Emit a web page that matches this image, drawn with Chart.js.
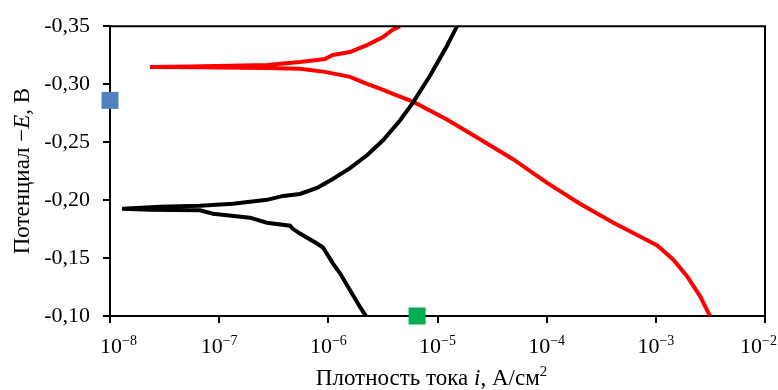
<!DOCTYPE html>
<html>
<head>
<meta charset="utf-8">
<script src="https://cdn.jsdelivr.net/npm/chart.js@4/dist/chart.umd.min.js"></script>
<style>
  html, body { margin: 0; padding: 0; background: #fff; }
  #wrap { width: 778px; height: 390px; }
</style>
</head>
<body>
<div id="wrap"><canvas id="polarChart" width="778" height="390"></canvas></div>
<script>
// red curve: current density (A/cm2) and potential (V), traced from the top end
const redCurrent = [4.53e-6, 3.83e-6, 3.17e-6, 2.26e-6, 1.58e-6, 1.10e-6, 9.3e-7, 5.5e-7, 2.74e-7, 1.26e-7, 5.4e-8, 2.32e-8,
  6.67e-8, 2.63e-7, 5.5e-7, 9.3e-7, 1.58e-6, 2.26e-6, 2.97e-6, 4.53e-6, 5.96e-6, 1.22e-5, 2.45e-5, 4.92e-5,
  1.01e-4, 2.02e-4, 4.05e-4, 7.16e-4, 1.03e-3, 1.44e-3, 1.93e-3, 2.54e-3, 3.13e-3];
const redPotential = [-0.350, -0.3466, -0.3406, -0.3337, -0.3277, -0.3252, -0.3217, -0.3192, -0.3166, -0.3158, -0.3153, -0.3149,
  -0.3145, -0.3140, -0.3132, -0.3106, -0.3063, -0.3003, -0.2961, -0.2892, -0.2849, -0.2695, -0.2524, -0.2353,
  -0.2148, -0.1968, -0.1806, -0.1685, -0.1608, -0.1488, -0.1343, -0.1172, -0.100];

// black curve
const blackCurrent = [1.51e-5, 1.22e-5, 8.53e-6, 5.96e-6, 4.53e-6, 3.17e-6, 2.26e-6, 1.58e-6, 1.10e-6, 7.87e-7, 5.5e-7, 3.85e-7,
  2.74e-7, 1.34e-7, 6.67e-8, 2.87e-8, 1.29e-8,
  2.32e-8, 6.67e-8, 8.77e-8, 1.91e-7, 2.74e-7, 4.46e-7, 4.7e-7, 5.5e-7, 7.87e-7, 8.93e-7, 1.10e-6, 1.28e-6,
  1.58e-6, 1.95e-6, 2.21e-6];
const blackPotential = [-0.350, -0.3329, -0.3072, -0.2841, -0.2687, -0.2516, -0.2387, -0.2276, -0.2182, -0.2105, -0.2053, -0.2036,
  -0.2002, -0.1968, -0.1951, -0.1942, -0.1925,
  -0.1916, -0.1912, -0.1882, -0.1848, -0.1805, -0.1779, -0.1754, -0.1711, -0.1625, -0.1591, -0.1454, -0.1369,
  -0.1223, -0.1078, -0.100];

// marker points
const blueMarker = { x: 1e-8, y: -0.286 };
const greenMarker = { x: 6.5e-6, y: -0.100 };

const xTickValues = [1e-8, 1e-7, 1e-6, 1e-5, 1e-4, 1e-3, 1e-2];
const xTickExponents = ["\u22128", "\u22127", "\u22126", "\u22125", "\u22124", "\u22123", "\u22122"];
const yTickValues = [-0.35, -0.30, -0.25, -0.20, -0.15, -0.10];

const serif = "'Liberation Serif', 'Times New Roman', serif";

function toPoints(xs, ys) {
  return xs.map((x, i) => ({ x: x, y: ys[i] }));
}

// frame, x tick labels with superscripts and both axis titles
const decorations = {
  id: "decorations",
  afterDraw(chart) {
    const ctx = chart.ctx;
    const area = chart.chartArea;
    const xScale = chart.scales.x;
    ctx.save();
    ctx.strokeStyle = "#000";
    ctx.lineWidth = 2;
    ctx.beginPath();
    ctx.moveTo(area.left, area.top);
    ctx.lineTo(area.right, area.top);
    ctx.lineTo(area.right, area.bottom);
    ctx.stroke();

    ctx.fillStyle = "#000";
    ctx.textBaseline = "alphabetic";
    xTickValues.forEach((v, i) => {
      const px = xScale.getPixelForValue(v);
      ctx.font = "22px " + serif;
      const w1 = ctx.measureText("10").width;
      ctx.font = "14px " + serif;
      const w2 = ctx.measureText(xTickExponents[i]).width;
      let left = px - (w1 + w2) / 2;
      if (left < 100) left = 100;
      if (left + w1 + w2 > chart.width - 1) left = chart.width - 1 - w1 - w2;
      ctx.font = "22px " + serif;
      ctx.textAlign = "left";
      ctx.fillText("10", left, 353);
      ctx.font = "14px " + serif;
      ctx.fillText(xTickExponents[i], left + w1, 345);
    });

    // x title
    const xParts = [
      { t: "Плотность тока ", f: "23px " + serif, dy: 0 },
      { t: "i", f: "italic 23px " + serif, dy: 0 },
      { t: ", А/см", f: "23px " + serif, dy: 0 },
      { t: "2", f: "15px " + serif, dy: -9 }
    ];
    drawParts(ctx, xParts, (area.left + area.right) / 2 - 6, 385);

    // y title, rotated
    ctx.translate(29, (area.top + area.bottom) / 2);
    ctx.rotate(-Math.PI / 2);
    const yParts = [
      { t: "Потенциал \u2212", f: "23px " + serif, dy: 0 },
      { t: "E", f: "italic 23px " + serif, dy: 0 },
      { t: ", В", f: "23px " + serif, dy: 0 }
    ];
    drawParts(ctx, yParts, 0, 0);
    ctx.restore();
  }
};

function drawParts(ctx, parts, cx, baseline) {
  let total = 0;
  parts.forEach((p) => { ctx.font = p.f; total += ctx.measureText(p.t).width; });
  let x = cx - total / 2;
  ctx.textAlign = "left";
  parts.forEach((p) => {
    ctx.font = p.f;
    ctx.fillText(p.t, x, baseline + p.dy);
    x += ctx.measureText(p.t).width;
  });
}

new Chart(document.getElementById("polarChart"), {
  type: "scatter",
  data: {
    datasets: [
      {
        label: "red",
        data: toPoints(redCurrent, redPotential),
        showLine: true,
        borderColor: "#ff0000",
        borderWidth: 4,
        pointRadius: 0,
        tension: 0,
        order: 2
      },
      {
        label: "black",
        data: toPoints(blackCurrent, blackPotential),
        showLine: true,
        borderColor: "#000000",
        borderWidth: 4,
        pointRadius: 0,
        tension: 0,
        order: 1
      },
      {
        label: "blue",
        data: [blueMarker],
        pointStyle: "rect",
        pointRadius: 12,
        backgroundColor: "#4f81bd",
        borderWidth: 0,
        clip: false,
        order: 0
      },
      {
        label: "green",
        data: [greenMarker],
        pointStyle: "rect",
        pointRadius: 12,
        backgroundColor: "#00b050",
        borderWidth: 0,
        clip: false,
        order: 0
      }
    ]
  },
  options: {
    responsive: false,
    animation: false,
    layout: { padding: { top: 24, right: 13, left: 0, bottom: 0 } },
    plugins: {
      legend: { display: false },
      tooltip: { enabled: false }
    },
    scales: {
      x: {
        type: "logarithmic",
        min: 1e-8,
        max: 1e-2,
        afterBuildTicks: (scale) => {
          scale.ticks = xTickValues.map((v) => ({ value: v }));
        },
        afterFit: (scale) => { scale.height = 74; },
        ticks: { display: false },
        grid: { drawOnChartArea: false, drawTicks: true, tickLength: 7, color: "#000", lineWidth: 2 },
        border: { color: "#000", width: 2 }
      },
      y: {
        type: "linear",
        min: -0.35,
        max: -0.10,
        reverse: true,
        afterBuildTicks: (scale) => {
          scale.ticks = yTickValues.map((v) => ({ value: v }));
        },
        afterFit: (scale) => { scale.width = 110; },
        ticks: {
          color: "#000",
          padding: 13,
          font: { family: serif, size: 22 },
          callback: (v) => Number(v).toFixed(2).replace(".", ",")
        },
        grid: { drawOnChartArea: false, drawTicks: true, tickLength: 7, color: "#000", lineWidth: 2 },
        border: { color: "#000", width: 2 }
      }
    }
  },
  plugins: [decorations]
});
</script>
</body>
</html>
